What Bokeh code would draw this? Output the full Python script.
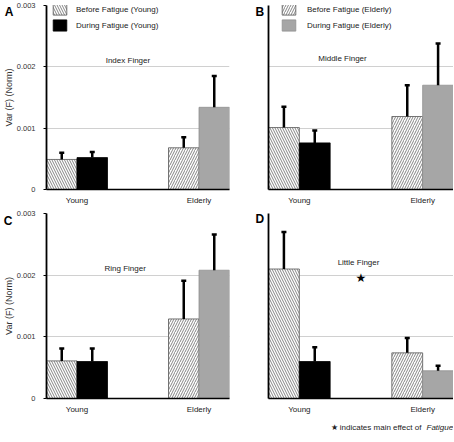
from math import pi
from bokeh.plotting import figure
from bokeh.models import (ColumnDataSource, Range1d, FixedTicker, Whisker, TeeHead,
                          Legend, LegendItem, Label)
from bokeh.layouts import column, row
from bokeh.embed import file_html
from bokeh.resources import INLINE

# ---------------- data ----------------
groups = ["Young", "Elderly"]
fingers = ["Index Finger", "Middle Finger", "Ring Finger", "Little Finger"]
panel_letters = ["A", "B", "C", "D"]
y_ticks = [0, 0.001, 0.002, 0.003]
y_tick_labels = ["0", "0.001", "0.002", "0.003"]
young_legend = ["Before Fatigue (Young)", "During Fatigue (Young)"]
elderly_legend = ["Before Fatigue (Elderly)", "During Fatigue (Elderly)"]
y_title = "Var (F) (Norm)"
footer_text = "\u2605 indicates main effect of "
footer_italic = "Fatigue"

index_before = [0.00049, 0.00068]
index_before_err = [0.00011, 0.00017]
index_during = [0.00052, 0.00134]
index_during_err = [0.00009, 0.00051]

middle_before = [0.00101, 0.00119]
middle_before_err = [0.00034, 0.00051]
middle_during = [0.00076, 0.00170]
middle_during_err = [0.00020, 0.00068]

ring_before = [0.00061, 0.00129]
ring_before_err = [0.00020, 0.00062]
ring_during = [0.00060, 0.00208]
ring_during_err = [0.00021, 0.00058]

little_before = [0.00210, 0.00074]
little_before_err = [0.00060, 0.00024]
little_during = [0.00060, 0.00045]
little_during_err = [0.00023, 0.00008]

FONT = "Liberation Sans"
X_END = 6
Y_END = 0.003

STYLE = {
    ("Young", 0): dict(fill_color="white", hatch_pattern="\\", hatch_color="#333333",
                       hatch_weight=0.6, hatch_scale=5, line_color="#555555", line_width=0.8),
    ("Young", 1): dict(fill_color="black", line_color="black", line_width=0.8),
    ("Elderly", 0): dict(fill_color="white", hatch_pattern="/", hatch_color="#333333",
                         hatch_weight=0.6, hatch_scale=5, line_color="#555555", line_width=0.8),
    ("Elderly", 1): dict(fill_color="#a6a6a6", line_color="#909090", line_width=0.8),
}


def make_panel(k, before, before_err, during, during_err, width, height, borders,
               title_pos, letter_px, letter_side, top_grid, show_ylabels,
               legend_group=None, legend_labels=None, legend_loc=None, legend_standoff=8,
               star_pos=None, footer=False):
    bl, br, bt, bb = borders
    fw = width - bl - br
    fh = height - bt - bb
    # pixel offsets (relative to the frame's bottom-left) -> data coordinates
    px_x = lambda px: px * X_END / fw
    px_y = lambda py: py * Y_END / fh

    p = figure(width=width, height=height, output_backend="svg", toolbar_location=None,
               x_range=Range1d(0, X_END), y_range=Range1d(0, Y_END),
               min_border_left=bl, min_border_right=br, min_border_top=bt,
               min_border_bottom=bb)
    p.outline_line_color = None
    p.background_fill_color = "white"
    p.border_fill_color = "white"

    centers = [1 + 4 * i for i in range(len(groups))]
    renderers = {}
    for i, g in enumerate(groups):
        for j, (vals, errs) in enumerate([(before, before_err), (during, during_err)]):
            src = ColumnDataSource(dict(x=[centers[i] - 0.5 + j], top=[vals[i]],
                                        upper=[vals[i] + errs[i]]))
            r = p.vbar(x="x", top="top", bottom=0, width=1, source=src, **STYLE[(g, j)])
            renderers[(g, j)] = r
            w = Whisker(source=src, base="x", lower="top", upper="upper", dimension="height",
                        line_width=2.5, line_color="black", lower_head=None,
                        upper_head=TeeHead(size=5, line_width=2.5, line_color="black"),
                        level="overlay")
            p.add_layout(w)

    # x axis
    xa = p.xaxis[0]
    xa.ticker = FixedTicker(ticks=centers)
    xa.major_label_overrides = {c: g for c, g in zip(centers, groups)}
    xa.major_tick_out = 0
    xa.major_tick_in = 0
    xa.minor_tick_out = 0
    xa.minor_tick_in = 0
    xa.axis_line_width = 1.5
    xa.axis_line_color = "black"
    xa.major_label_standoff = 6
    xa.major_label_text_font = FONT
    xa.major_label_text_font_size = "8px"
    xa.major_label_text_color = "#222222"

    # y axis
    ya = p.yaxis[0]
    ya.minor_tick_out = 0
    ya.minor_tick_in = 0
    ya.major_tick_in = 0
    ya.axis_line_width = 1.8
    ya.axis_line_color = "black"
    if show_ylabels:
        ya.ticker = FixedTicker(ticks=y_ticks)
        ya.major_label_overrides = {t: l for t, l in zip(y_ticks, y_tick_labels)}
        ya.major_label_text_font = FONT
        ya.major_label_text_color = "#333333"
        ya.major_tick_out = 3
        ya.major_label_standoff = 8
        ya.major_label_text_font_size = "7.5px"
        ya.axis_label = y_title
        ya.axis_label_standoff = 0
        ya.axis_label_text_font = FONT
        ya.axis_label_text_font_size = "9px"
        ya.axis_label_text_font_style = "normal"
        ya.axis_label_text_color = "#333333"
    else:
        ya.ticker = FixedTicker(ticks=[])
        ya.major_tick_out = 0
        ya.major_label_standoff = 0

    p.xgrid.visible = False
    p.ygrid.ticker = FixedTicker(ticks=y_ticks[1:] if top_grid else y_ticks[1:-1])
    p.ygrid.grid_line_color = "#d0d0d0"
    p.ygrid.grid_line_width = 1

    # finger title
    p.add_layout(Label(x=title_pos[0], y=title_pos[1], text=fingers[k], text_align="center",
                       text_baseline="middle", text_font=FONT, text_font_size="8px",
                       text_color="#222222"))
    # panel letter (in a side panel so that it is drawn outside the frame)
    p.add_layout(Label(x=px_x(letter_px[0]), y=px_y(letter_px[1]),
                       text=panel_letters[k], text_align="left", text_baseline="middle",
                       text_font=FONT, text_font_size="12px", text_font_style="bold",
                       text_color="black"), letter_side)

    if legend_group is not None:
        items = [LegendItem(label=legend_labels[j], renderers=[renderers[(legend_group, j)]])
                 for j in range(2)]
        leg = Legend(items=items, location=legend_loc, glyph_width=17, glyph_height=14,
                     label_height=14, label_width=10, spacing=2, padding=0, margin=0,
                     label_standoff=legend_standoff, label_text_font=FONT,
                     label_text_font_size="8px", label_text_color="#222222",
                     border_line_color=None, background_fill_alpha=0)
        p.add_layout(leg)

    if star_pos is not None:
        p.add_layout(Label(x=star_pos[0], y=star_pos[1], text="\u2605", text_align="center",
                           text_baseline="middle", text_font="DejaVu Sans",
                           text_font_size="12px", text_color="black"))
    if footer:
        p.add_layout(Label(x=px_x(62), y=px_y(-29), text=footer_text,
                           text_align="left", text_baseline="middle", text_font=FONT,
                           text_font_size="8px", text_color="#222222"), "below")
        p.add_layout(Label(x=px_x(158), y=px_y(-29), text=footer_italic,
                           text_align="left", text_baseline="middle", text_font=FONT,
                           text_font_size="8px", text_font_style="italic",
                           text_color="#222222"), "below")
    return p


pA = make_panel(0, index_before, index_before_err, index_during, index_during_err,
                249, 207, (45, 20, 5, 17), (2.67, 0.00211), (-42, 178.5), "right",
                False, True, legend_group="Young", legend_labels=young_legend,
                legend_loc=(5, 157), legend_standoff=8)
pB = make_panel(1, middle_before, middle_before_err, middle_during, middle_during_err,
                204, 207, (19, 0, 5, 17), (2.4, 0.00214), (-13, 178), "left",
                False, False, legend_group="Elderly", legend_labels=elderly_legend,
                legend_loc=(12, 157), legend_standoff=10)
pC = make_panel(2, ring_before, ring_before_err, ring_during, ring_during_err,
                249, 234, (45, 20, 6, 43), (2.58, 0.00211), (-43, 177.5), "right",
                True, True)
pD = make_panel(3, little_before, little_before_err, little_during, little_during_err,
                204, 234, (19, 0, 6, 43), (2.92, 0.0022), (-13, 180), "left",
                True, False, star_pos=(3.0, 0.00195), footer=True)

layout = column(row(pA, pB), row(pC, pD))
open("out.html", "w").write(file_html(layout, INLINE))
